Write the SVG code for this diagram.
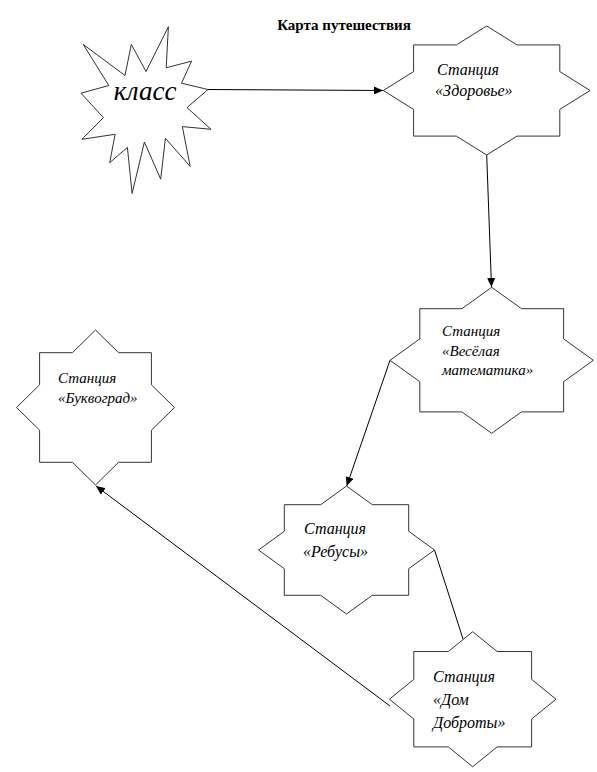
<svg xmlns="http://www.w3.org/2000/svg" width="597" height="772" viewBox="0 0 597 772">
<style>
.shape{fill:#ffffff;stroke:#333333;stroke-width:1;stroke-linejoin:miter}
.lbl{font-family:"Liberation Serif","Times New Roman",serif;font-style:italic;fill:#000000}
.title{font-family:"Liberation Serif","Times New Roman",serif;font-weight:bold;font-size:15px;fill:#000000}
.conn{stroke:#000000;stroke-width:1;fill:none}
</style>
<defs>
<marker id="arrow" markerUnits="userSpaceOnUse" markerWidth="10" markerHeight="8" refX="9" refY="4" orient="auto">
<path d="M0,0 L9,4 L0,8 Z" fill="#000000"/>
</marker>
</defs>
<rect x="0" y="0" width="597" height="772" fill="#ffffff"/>
<text class="title" x="344" y="30" text-anchor="middle">Карта путешествия</text>

<g id="connectors">
<line class="conn" x1="208" y1="89.5" x2="383" y2="90.5" marker-end="url(#arrow)"/>
<line class="conn" x1="486.7" y1="155" x2="491.5" y2="287" marker-end="url(#arrow)"/>
<line class="conn" x1="390" y1="360.3" x2="346.7" y2="486" marker-end="url(#arrow)"/>
<line class="conn" x1="434.5" y1="550" x2="463" y2="639"/>
<line class="conn" x1="390" y1="706" x2="96" y2="486" marker-end="url(#arrow)"/>
</g>

<g id="node-klass">
<polygon class="shape" points="146,71.5 168.4,26.7 166.2,67.8 191.6,61.1 181.5,83.2 208,89.5 187,107.6 211,129.3 182.3,126.6 190.2,166.4 165.4,138.3 160.7,179.1 144.4,142 132.1,193.5 127.4,147.4 109.7,162.7 115.1,134.3 81.8,139.3 103.4,117.6 81,93.2 108.8,85.5 83.2,44.4 125,75.5 131.3,44.4"/>
<text class="lbl" x="145" y="100" font-size="27" text-anchor="middle">класс</text>
</g>

<g id="node-zdorovye">
<polygon class="shape" points="590.1,90.5 559.8,109.4 559.8,136.1 517,136.1 486.7,155 456.4,136.1 413.6,136.1 413.6,109.4 383.3,90.5 413.6,71.6 413.6,44.9 456.4,44.9 486.7,26 517,44.9 559.8,44.9 559.8,71.6"/>
<text class="lbl" font-size="16"><tspan x="437" y="75">Станция</tspan><tspan x="435" y="96">«Здоровье»</tspan></text>
</g>

<g id="node-matematika">
<polygon class="shape" points="593.4,360.3 563.6,381.7 563.6,411.9 521.5,411.9 491.7,433.3 461.9,411.9 419.8,411.9 419.8,381.7 390,360.3 419.8,338.9 419.8,308.7 461.9,308.7 491.7,287.3 521.5,308.7 563.6,308.7 563.6,338.9"/>
<text class="lbl" font-size="15"><tspan x="442" y="336">Станция</tspan><tspan x="442" y="355.5">«Весёлая</tspan><tspan x="442" y="375">математика»</tspan></text>
</g>

<g id="node-bukvograd">
<polygon class="shape" points="174.5,407.5 151.4,430.2 151.4,462.3 118.6,462.3 95.5,485 72.4,462.3 39.6,462.3 39.6,430.2 16.5,407.5 39.6,384.8 39.6,352.7 72.4,352.7 95.5,330 118.6,352.7 151.4,352.7 151.4,384.8"/>
<text class="lbl" font-size="15"><tspan x="58" y="383">Станция</tspan><tspan x="58" y="403">«Буквоград»</tspan></text>
</g>

<g id="node-rebusy">
<polygon class="shape" points="434.5,550 408.7,568.7 408.7,595.3 372.3,595.3 346.5,614 320.7,595.3 284.3,595.3 284.3,568.7 258.5,550 284.3,531.3 284.3,504.7 320.7,504.7 346.5,486 372.3,504.7 408.7,504.7 408.7,531.3"/>
<text class="lbl" font-size="16"><tspan x="304" y="534">Станция</tspan><tspan x="303" y="557">«Ребусы»</tspan></text>
</g>

<g id="node-dobrota">
<polygon class="shape" points="556,699.2 531.6,719 531.6,746.9 497.1,746.9 472.7,766.7 448.3,746.9 413.8,746.9 413.8,719 389.4,699.2 413.8,679.4 413.8,651.5 448.3,651.5 472.7,631.7 497.1,651.5 531.6,651.5 531.6,679.4"/>
<text class="lbl" font-size="16"><tspan x="433" y="682">Станция</tspan><tspan x="433" y="705">«Дом</tspan><tspan x="433" y="728">Доброты»</tspan></text>
</g>
</svg>
